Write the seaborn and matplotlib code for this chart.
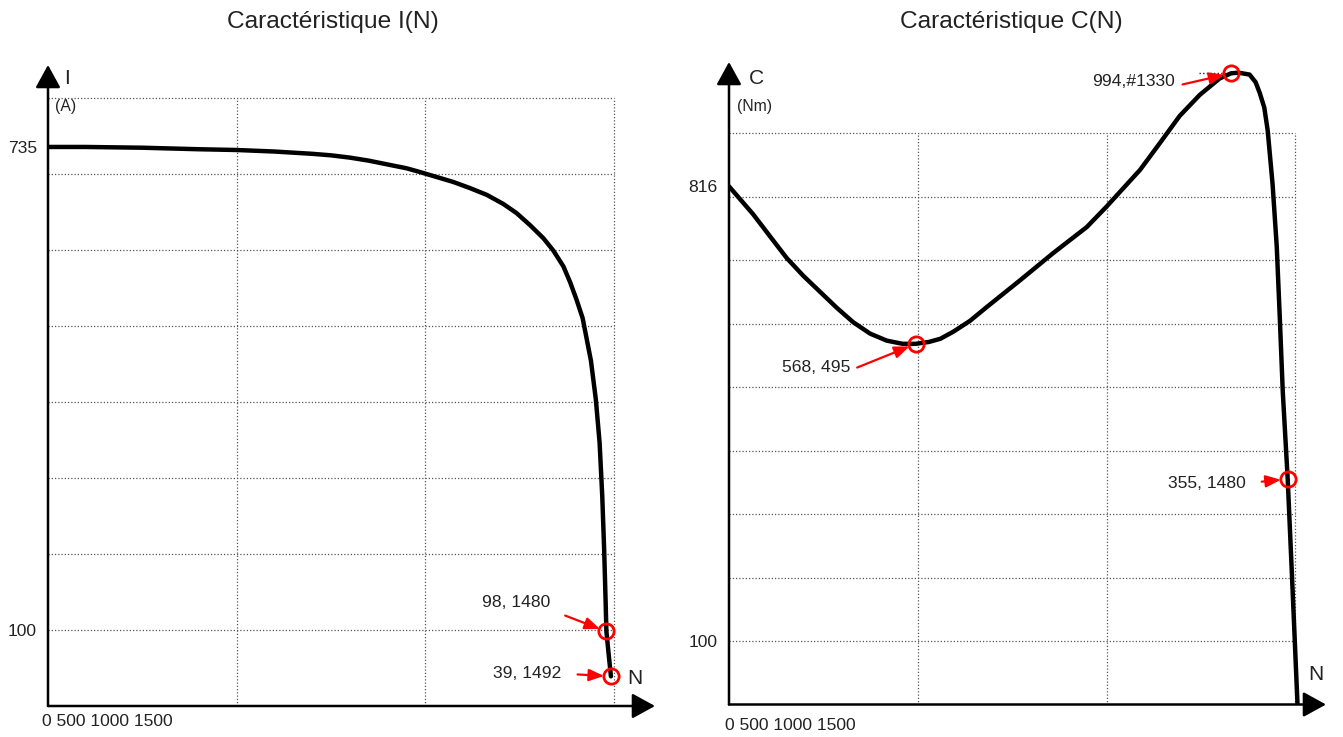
import matplotlib
matplotlib.use("Agg")
import matplotlib.pyplot as plt
import seaborn as sns
from matplotlib import font_manager


# Data
# I(N): current (A) vs speed (tr/min)
speed_i = [0, 100, 250, 400, 500, 600, 700, 750, 800, 850, 900, 950, 986,
           1030, 1074, 1118, 1163, 1207, 1242, 1278, 1313, 1339, 1366, 1384,
           1401, 1417, 1428, 1439, 1452, 1462, 1469, 1474, 1478, 1480, 1486, 1492]
current = [735, 735, 734, 732, 731, 729, 726, 724, 721, 717, 712, 707, 702,
           695.5, 689, 681, 672, 660, 648, 632, 615, 599, 578, 557,
           534, 510, 482, 454, 403, 346, 276, 206, 136, 98, 68, 39]

# C(N): torque (Nm) vs speed (tr/min)
speed_c = [0, 64, 109, 153, 197, 241, 285, 329, 374, 418, 460, 495, 530, 560,
           594, 638, 683, 771, 859, 948, 1000, 1089, 1140, 1194, 1247, 1300,
           1330, 1350, 1379, 1395, 1406, 1418, 1427, 1440, 1451, 1459, 1467,
           1480, 1493, 1506]
torque = [816, 772, 737, 703, 675, 650, 625, 602, 584, 573, 568, 568, 571, 576,
          587, 604, 626, 668, 711, 752, 784, 842, 883, 927, 960, 986,
          994, 995, 992, 980, 963, 940, 904, 819, 721, 610, 492,
          355, 180, 0]

# annotated points
i_points_n = [1480, 1492]
i_points_v = [98, 39]
i_labels = ["98, 1480", "39, 1492"]

c_points_n = [495, 1330, 1480]
c_points_v = [568, 994, 355]
c_labels = ["568, 495", "994,#1330", "355, 1480"]

grid_n = [500, 1000, 1500]
grid_i = [100, 200, 300, 400, 500, 600, 700, 800]
grid_c = [100, 200, 300, 400, 500, 600, 700, 800, 900]

# fonts
sns.set_style("white")
available = {f.name for f in font_manager.fontManager.ttflist}
narrow = "Liberation Sans Narrow" in available
FONT = "Liberation Sans Narrow" if narrow else "Liberation Sans"
k = 1.0 if narrow else 0.84
plt.rcParams["font.family"] = [FONT, "DejaVu Sans"]
TXT = "#222222"

W, H = 1343, 737
fig = plt.figure(figsize=(W / 100, H / 100), dpi=100)


def px_box(x0, y0, x1, y1):
    return [x0 / W, 1 - y1 / H, (x1 - x0) / W, (y1 - y0) / H]


def px(x, y):
    return x / W, 1 - y / H


ax1 = fig.add_axes(px_box(48, 65, 655, 706))
ax2 = fig.add_axes(px_box(729, 62, 1326, 704.5))
ax1.set_xlim(0, 607 / 0.3773)
ax1.set_ylim(0, 641 / 0.7606)
ax2.set_xlim(0, 597 / 0.3775)
ax2.set_ylim(0, 642.5 / 0.635)


def setup(ax, yticks, grid_y, top):
    for s in ax.spines.values():
        s.set_visible(False)
    ax.set_xticks([])
    ax.set_yticks(yticks)
    ax.set_yticklabels([str(t) for t in yticks], fontsize=15 * k, color=TXT)
    ax.tick_params(axis="y", length=0, pad=8)
    ax.set_xlabel("")
    ax.set_ylabel("")
    grid_kw = dict(colors="#555555", linewidth=0.9, linestyles=(0, (1, 1.6)), zorder=1)
    ax.hlines(grid_y, 0, 1500, **grid_kw)
    ax.vlines(grid_n, 0, top, **grid_kw)
    # axes with arrow heads
    arrow = dict(arrowstyle="-|>,head_length=1.0,head_width=0.55", color="black",
                 lw=1.8, shrinkA=0, shrinkB=0, mutation_scale=14)
    ax.annotate("", xy=(1, 0), xytext=(0, 0), xycoords="axes fraction",
                arrowprops=arrow, annotation_clip=False)
    ax.annotate("", xy=(0, 1), xytext=(0, 0), xycoords="axes fraction",
                arrowprops=arrow, annotation_clip=False)


def mark(ax, ns, vs, labels, offsets, relpos, shrinks):
    ax.plot(ns, vs, "o", mfc="none", mec="red", ms=11, mew=2, zorder=5, clip_on=False)
    for n, v, lab, off, rp, sh in zip(ns, vs, labels, offsets, relpos, shrinks):
        ax.annotate(lab, xy=(n, v), xytext=off, textcoords="offset points",
                    ha="center", va="center", fontsize=15 * k, color=TXT,
                    arrowprops=dict(arrowstyle="-|>,head_length=0.75,head_width=0.3",
                                    color="red", lw=1.6, mutation_scale=12,
                                    relpos=rp, shrinkA=sh, shrinkB=5))


# ---- I(N)
setup(ax1, [100, 735], grid_i, 800)
sns.lineplot(x=speed_i, y=current, ax=ax1, color="black", linewidth=3.2, zorder=3)
mark(ax1, i_points_n, i_points_v, i_labels,
     offsets=[(-65, 21), (-60, 2)], relpos=[(1, 0), (1, 0.5)], shrinks=[9, 9])

# ---- C(N)
setup(ax2, [100, 816], grid_c, 900)
sns.lineplot(x=speed_c, y=torque, ax=ax2, color="black", linewidth=3.2, zorder=3)
ax2.hlines(994, 1245, 1320, colors="#222222", linewidth=1.0, linestyles=(0, (1, 1.6)))
mark(ax2, c_points_n, c_points_v, c_labels,
     offsets=[(-72, -17), (-70, -6), (-58, -3)], relpos=[(1, 0.3), (1, 0.2), (1, 0.5)],
     shrinks=[3, 3, 9])

# axis names and speed labels
fig.text(*px(67, 78), "I", fontsize=18 * k, color=TXT, ha="center", va="center")
fig.text(*px(66, 106), "(A)", fontsize=13.5 * k, color=TXT, ha="center", va="center")
fig.text(*px(635, 679), "N", fontsize=18 * k, color=TXT, ha="center", va="center")
fig.text(*px(756, 78), "C", fontsize=18 * k, color=TXT, ha="center", va="center")
fig.text(*px(754, 106), "(Nm)", fontsize=13.5 * k, color=TXT, ha="center", va="center")
fig.text(*px(1316, 675), "N", fontsize=18 * k, color=TXT, ha="center", va="center")
fig.text(*px(42, 722), "0 500 1000 1500", fontsize=15 * k, color=TXT, ha="left", va="center")
fig.text(*px(725, 725), "0 500 1000 1500", fontsize=15 * k, color=TXT, ha="left", va="center")

fig.text(*px(333, 22), "Caractéristique I(N)", fontsize=21 * k, color=TXT,
         ha="center", va="center")
fig.text(*px(1011, 22), "Caractéristique C(N)", fontsize=21 * k, color=TXT,
         ha="center", va="center")

fig.savefig("out.png", dpi=100)
